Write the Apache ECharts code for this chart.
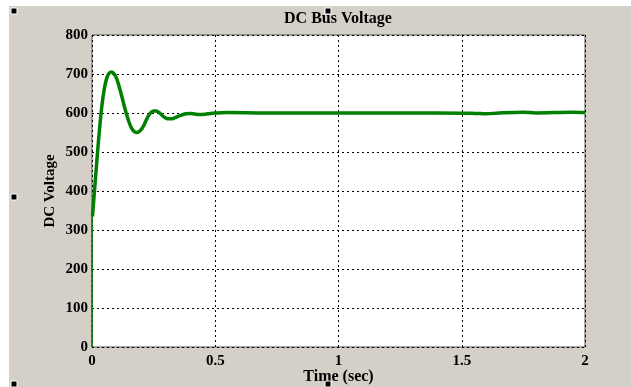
<!DOCTYPE html>
<html>
<head>
<meta charset="utf-8">
<script src="https://cdn.jsdelivr.net/npm/echarts@6/dist/echarts.min.js"></script>
<style>html,body{margin:0;padding:0;background:#fff;}#c{width:631px;height:387px;}</style>
</head>
<body>
<div id="c"></div>
<script>
const titleText = 'DC Bus Voltage';
const xName = 'Time (sec)';
const yName = 'DC Voltage';
const xTicks = [0, 0.5, 1, 1.5, 2];
const yTicks = [0, 100, 200, 300, 400, 500, 600, 700, 800];
// initial jump at t=0
const jumpT = [0, 0, 0.002];
const jumpV = [0, 330, 335];
// main response
const timeS = [0.002,0.01,0.02,0.03,0.04,0.05,0.06,0.07,0.08,0.09,0.10,0.11,0.12,0.13,0.14,0.15,0.16,0.17,0.18,0.19,0.20,0.21,0.22,0.23,0.24,0.25,0.26,0.27,0.28,0.29,0.30,0.31,0.32,0.33,0.34,0.36,0.38,0.40,0.42,0.44,0.46,0.48,0.50,0.55,0.7,1.0,1.2,1.4,1.55,1.6,1.65,1.75,1.8,1.95,2.0];
const voltV = [335,400,480,555,618,662,690,702,705,700,688,668,645,620,597,577,562,553,550,552,558,568,582,594,602,605,605,602,597,591,587,585,585,586,589,594,598,599,597,596,597,599,600,601,600,600,600,600,599,598,600,602,600,602,601];

const chart = echarts.init(document.getElementById('c'), null, {renderer: 'canvas'});
const font = 'Liberation Serif, Times New Roman, serif';
const sq = (x, y) => ({type: 'rect', shape: {x: x, y: y, width: 6, height: 6}, style: {fill: '#000', stroke: '#fff', lineWidth: 1}, z: 10});
chart.setOption({
  animation: false,
  backgroundColor: '#fff',
  graphic: [
    {type: 'rect', shape: {x: 9, y: 6, width: 622, height: 381}, style: {fill: '#d4d0c8'}, z: -10, silent: true},
    {type: 'rect', shape: {x: 92, y: 35, width: 493, height: 312}, style: {fill: '#fff'}, z: -9, silent: true},
    {type: 'text', x: 338, y: 19, style: {text: titleText, font: 'bold 16px ' + font, fill: '#000', textAlign: 'center', textVerticalAlign: 'middle'}, z: 5},
    sq(11, 8), sq(325, 8), sq(11, 194), sq(11, 381), sq(325, 381)
  ],
  grid: {left: 92, right: 46, top: 35, bottom: 40, show: true, borderColor: '#555', borderWidth: 1, backgroundColor: 'transparent', containLabel: false, outerBoundsMode: 'none'},
  xAxis: {
    type: 'value', min: 0, max: 2, interval: 0.5,
    name: xName, nameLocation: 'middle', nameGap: 22, nameMoveOverlap: false,
    nameTextStyle: {fontFamily: font, fontWeight: 'bold', fontSize: 16, color: '#000'},
    axisLine: {show: false}, axisTick: {show: false},
    axisLabel: {fontFamily: font, fontWeight: 'bold', fontSize: 15, color: '#000', margin: 7,
      formatter: v => xTicks.includes(v) ? String(v) : ''},
    splitLine: {show: true, lineStyle: {color: '#000', type: [2, 3], width: 1}}
  },
  yAxis: {
    type: 'value', min: 0, max: 800, interval: 100,
    name: yName, nameLocation: 'middle', nameGap: 34, nameMoveOverlap: false,
    nameTextStyle: {fontFamily: font, fontWeight: 'bold', fontSize: 15, color: '#000'},
    axisLine: {show: false}, axisTick: {show: false},
    axisLabel: {fontFamily: font, fontWeight: 'bold', fontSize: 15, color: '#000', margin: 4,
      formatter: v => yTicks.includes(v) ? String(v) : ''},
    splitLine: {show: true, lineStyle: {color: '#000', type: [2, 3], width: 1}}
  },
  series: [
    {type: 'line', data: jumpT.map((t, i) => [t, jumpV[i]]), showSymbol: false, lineStyle: {color: '#008000', width: 1.5}, z: 3},
    {type: 'line', data: timeS.map((t, i) => [t, voltV[i]]), showSymbol: false, smooth: 0.35, lineStyle: {color: '#008000', width: 3.5}, z: 4}
  ]
});
</script>
</body>
</html>
